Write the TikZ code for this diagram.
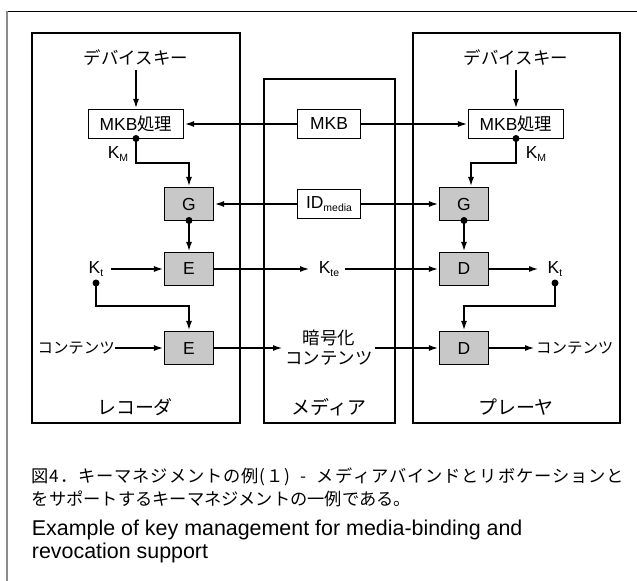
\documentclass[tikz,border=0pt]{standalone}
\usepackage{fontspec}
\setmainfont{Liberation Sans}
\newfontfamily\jp{Noto Sans CJK JP}
\usetikzlibrary{arrows.meta}

\definecolor{boxgray}{RGB}{200,200,200}
\definecolor{rulegray}{RGB}{140,140,140}

% text sizes
\newcommand\dtext{\fontsize{17.5}{20}\selectfont}
\newcommand\smalljp{\fontsize{15.5}{18}\selectfont\jp}
\newcommand\boxlabel{\fontsize{19}{22}\selectfont\jp}
\newcommand\capjp{\fontsize{17.3}{20}\selectfont\jp}
\newcommand\capen{\fontsize{21.5}{24}\selectfont}
\newcommand\subtxt[1]{\raisebox{-0.3ex}{\fontsize{10.5}{11}\selectfont #1}}

% spread the characters of a line evenly across a fixed width
\def\spreadfirst#1{#1\spreadnext}
\def\spreadnext#1{\ifx#1\relax\else\hfil#1\expandafter\spreadnext\fi}

\begin{document}
\begin{tikzpicture}[x=1bp,y=-1bp,
  container/.style={draw, line width=1.5bp, inner sep=0},
  wbox/.style={draw, fill=white, line width=1.2bp, inner sep=0, minimum height=29bp, font=\dtext},
  gbox/.style={draw, fill=boxgray, line width=1.2bp, inner sep=0, minimum width=49bp, minimum height=33bp, font=\dtext},
  conn/.style={line width=2bp, -{Latex[length=10bp,width=6bp]}},
  dot/.style={circle, fill, inner sep=0, minimum size=7bp},
  lbl/.style={inner sep=0, font=\dtext},
]
\useasboundingbox (0,0) rectangle (637,581);

% page frame
\draw[line width=1bp] (7,11.5) -- (637,11.5);
\draw[rulegray, line width=2bp] (7,11) -- (7,581);

% the three units
\node[container, minimum width=208bp, minimum height=390bp] (rec) at (136,228) {};
\node[container, minimum width=131bp, minimum height=344bp] (med) at (329.5,251) {};
\node[container, minimum width=207bp, minimum height=390bp] (ply) at (516.5,228) {};

\node[lbl, font=\boxlabel] (recname) at (135,407) {レコーダ};
\node[lbl, font=\boxlabel] (medname) at (329,407) {メディア};
\node[lbl, font=\boxlabel] (plyname) at (516,407) {プレーヤ};

% recorder
\node[lbl] (dk1) at (136,58) {\jp デバイスキー};
\node[wbox, minimum width=95bp] (mkbp1) at (136,124) {MKB{\jp 処理}};
\node[gbox] (g1) at (189,204) {G};
\node[gbox] (e1) at (189,269) {E};
\node[gbox] (e2) at (189,348) {E};
\node[lbl] (km1) at (118,154) {K\subtxt{M}};
\node[lbl] (kt1) at (96,269) {K\subtxt{t}};
\node[dot] (kt1dot) at (96,283) {};
\node[dot] (km1dot) at (136,138.5) {};
\node[dot] (g1dot) at (189,220.5) {};
\node[lbl, anchor=east] (cont1) at (115,348) {\smalljp コンテンツ};

% media
\node[wbox, minimum width=63bp] (mkb) at (329,124) {MKB};
\node[wbox, minimum width=63bp] (idm) at (329,204) {ID\subtxt{media}};
\node[lbl] (kte) at (329,269) {K\subtxt{te}};
\node[lbl, align=center, font=\dtext\jp] (enc) at (329,347.5) {暗号化\\[0pt]コンテンツ};

% player
\node[lbl] (dk2) at (516,58) {\jp デバイスキー};
\node[wbox, minimum width=95bp] (mkbp2) at (516,124) {MKB{\jp 処理}};
\node[gbox] (g2) at (464,204) {G};
\node[gbox] (d1) at (464,269) {D};
\node[gbox] (d2) at (464,348) {D};
\node[lbl] (km2) at (536,154) {K\subtxt{M}};
\node[lbl] (kt2) at (555,269) {K\subtxt{t}};
\node[dot] (kt2dot) at (555,283) {};
\node[dot] (km2dot) at (516,138.5) {};
\node[dot] (g2dot) at (464,220.5) {};
\node[lbl, anchor=west] (cont2) at (536,348) {\smalljp コンテンツ};

% free ends and bends of the connectors
\coordinate (dk1s) at (136,70);
\coordinate (dk2s) at (516,70);
\coordinate (km1c) at (136,163);
\coordinate (km2c) at (516,163);
\coordinate (kt1c) at (96,306);
\coordinate (kt2c) at (555,306);
\coordinate (kt1s) at (111,269);
\coordinate (kteL) at (310,269);
\coordinate (kteR) at (345,269);
\coordinate (encL) at (283,348);
\coordinate (encR) at (375,348);
\coordinate (kt2L) at (539,269);
\coordinate (cont2L) at (535,348);

% connectors
\draw[conn] (dk1s) -- (mkbp1.north);
\draw[conn] (dk2s) -- (mkbp2.north);
\draw[conn] (mkb.west) -- (mkbp1.east);
\draw[conn] (mkb.east) -- (mkbp2.west);
\draw[conn] (idm.west) -- (g1.east);
\draw[conn] (idm.east) -- (g2.west);
\draw[conn] (km1dot.center) -- (km1c) -| (g1.north);
\draw[conn] (km2dot.center) -- (km2c) -| ([xshift=7bp]g2.north);
\draw[conn] (g1dot.center) -- (e1.north);
\draw[conn] (g2dot.center) -- (d1.north);
\draw[conn] (kt1s) -- (e1.west);
\draw[conn] (e1.east) -- (kteL);
\draw[conn] (kteR) -- (d1.west);
\draw[conn] (d1.east) -- (kt2L);
\draw[conn] (kt1dot.center) -- (kt1c) -| (e2.north);
\draw[conn] (kt2dot.center) -- (kt2c) -| (d2.north);
\draw[conn] (cont1.east) -- (e2.west);
\draw[conn] (e2.east) -- (encL);
\draw[conn] (encR) -- (d2.west);
\draw[conn] (d2.east) -- (cont2L);

% caption
\node[anchor=west, inner sep=0] (cap1) at (31.7,476.5)
  {\capjp\makebox[592bp][s]{\spreadfirst 図4．キーマネジメントの例(１)\enspace-\enspace メディアバインドとリボケーションと\relax}};
\node[anchor=west, inner sep=0] (cap2) at (31.7,499)
  {\capjp をサポートするキーマネジメントの一例である。};
\node[anchor=base west, inner sep=0] (cap3) at (31.7,535)
  {\capen Example of key management for media-binding and};
\node[anchor=base west, inner sep=0] (cap4) at (31.7,558.3)
  {\capen revocation support};
\end{tikzpicture}
\end{document}
